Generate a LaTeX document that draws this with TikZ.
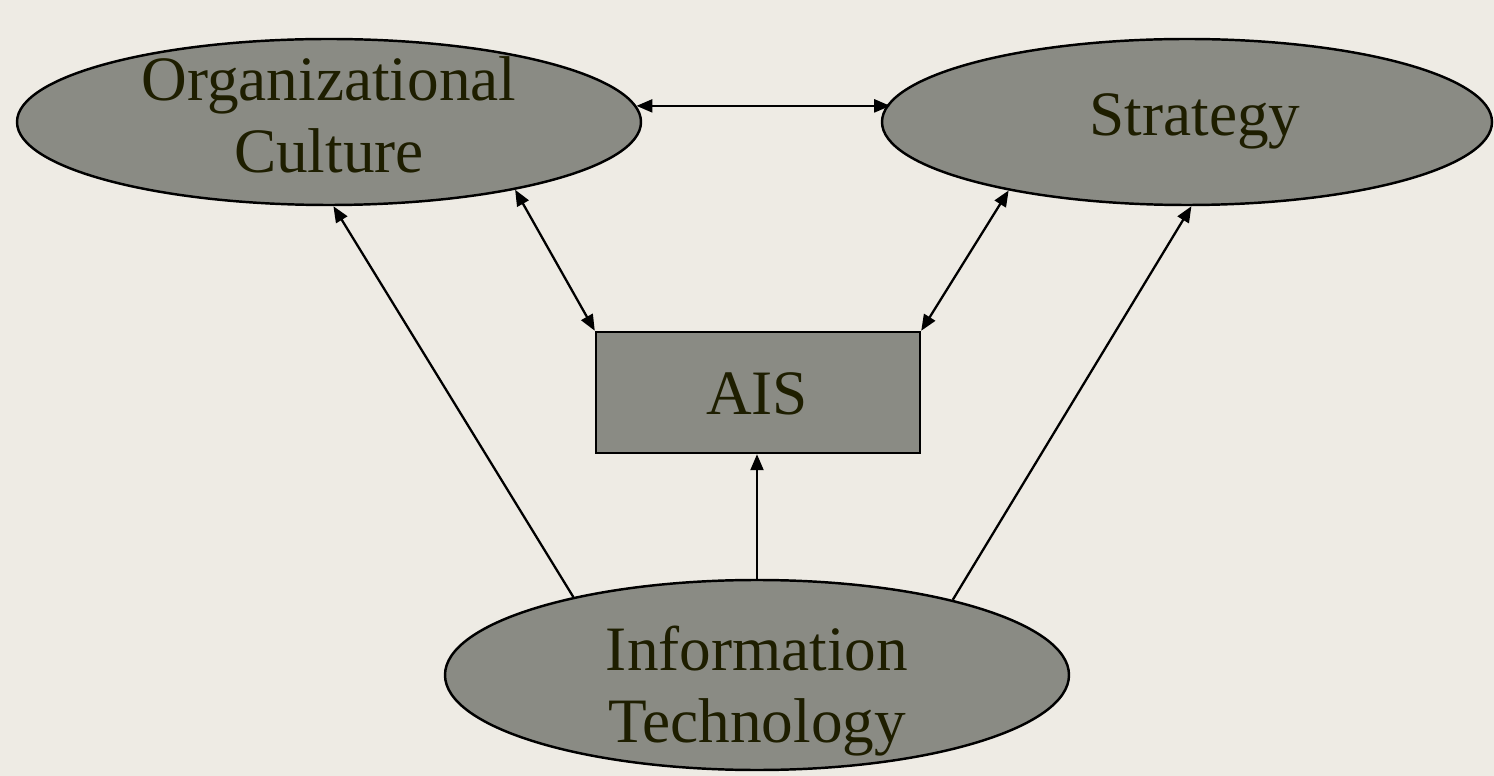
\documentclass[tikz,border=0pt]{standalone}
\usepackage{fontspec}
\setmainfont{Liberation Serif}
\usetikzlibrary{shapes.geometric,arrows.meta}
\definecolor{bgc}{HTML}{EEEBE4}
\definecolor{fillc}{HTML}{8A8B84}
\definecolor{txtc}{HTML}{1E1E00}
\tikzset{
  shapebox/.style={draw=black, line width=1.4pt, fill=fillc, inner sep=0pt},
  oval/.style={shapebox, ellipse},
  lbl/.style={text=txtc, font=\fontsize{36}{41}\selectfont, align=center, inner sep=0pt},
  conn/.style={line width=1.3pt, draw=black},
  tip/.style={-{Triangle[length=0.32cm,width=0.26cm]}},
  dtip/.style={{Triangle[length=0.32cm,width=0.26cm]}-{Triangle[length=0.32cm,width=0.26cm]}}
}
\begin{document}
\begin{tikzpicture}[x=0.02cm,y=-0.02cm]
\fill[bgc] (0,0) rectangle (1494,776);
\useasboundingbox (0,0) rectangle (1494,776);
% shapes
\node[oval, minimum width=624*0.02cm, minimum height=166*0.02cm] (oc) at (329,122) {};
\node[oval, minimum width=610*0.02cm, minimum height=166*0.02cm] (st) at (1187,122) {};
\node[shapebox, rectangle, minimum width=324*0.02cm, minimum height=121*0.02cm] (ais) at (758,392.5) {};
\node[oval, minimum width=624*0.02cm, minimum height=190*0.02cm] (it) at (757,675) {};
% texts
\node[lbl] (oct) at (329,115) {Organizational\\Culture};
\node[lbl] (stt) at (1195,121) {Strategy};
\node[lbl] (aist) at (757,394) {AIS};
\node[lbl] (itt) at (757,691) {Information\\Technology};
% connectors
\draw[conn,dtip] (oc.3.3) -- (oc.3.3 -| st.176.6);
\draw[conn,dtip] (oc.-20.4) -- (ais.north west);
\draw[conn,dtip] (st.-159.4) -- (ais.north east);
\draw[conn,tip] (it.157) -- (oc.-87.3);
\draw[conn,tip] (it.21.5) -- (st.-87.3);
\draw[conn,tip] (it.north) -- (it.north |- ais.south);
\end{tikzpicture}
\end{document}
